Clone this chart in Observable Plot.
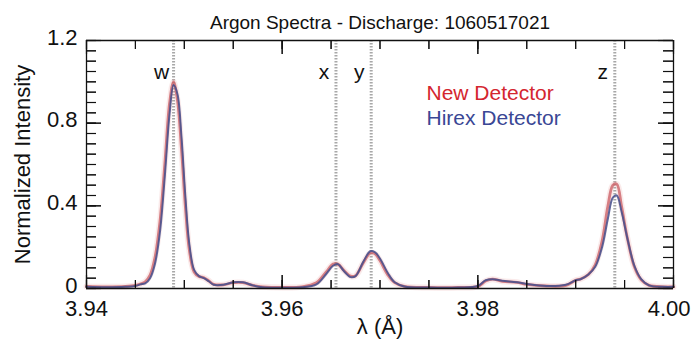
<!DOCTYPE html>
<html>
<head>
<meta charset="utf-8">
<script src="https://cdn.jsdelivr.net/npm/d3@7"></script>
<script src="https://cdn.jsdelivr.net/npm/@observablehq/plot@0.6"></script>
<style>
  html, body { margin: 0; padding: 0; background: #fff; }
  #chart svg { display: block; }
</style>
</head>
<body>
<div id="chart"></div>
<script>
// ---- data ----
const title = "Argon Spectra - Discharge: 1060517021";
const xLabel = "λ (Å)";
const yLabel = "Normalized Intensity";
const seriesNames = ["New Detector", "Hirex Detector"];

const lambda = [3.9400,3.9420,3.9440,3.9450,3.9455,3.9460,3.9465,3.9470,3.9475,3.9480,3.9485,3.9489,3.9493,3.9497,3.9501,3.9505,3.9510,3.9515,3.9520,3.9525,3.9530,3.9540,3.9550,3.9560,3.9570,3.9580,3.9600,3.9620,3.9635,3.9645,3.9652,3.9657,3.9663,3.9670,3.9675,3.9683,3.9690,3.9695,3.9700,3.9708,3.9715,3.9725,3.9750,3.9780,3.9800,3.9808,3.9815,3.9825,3.9840,3.9850,3.9870,3.9890,3.9900,3.9905,3.9913,3.9920,3.9927,3.9933,3.9938,3.9942,3.9947,3.9953,3.9960,3.9967,3.9975,3.9990,4.0000];
const newDetector = [0.010,0.008,0.010,0.015,0.022,0.032,0.065,0.150,0.320,0.600,0.900,1.000,0.910,0.680,0.400,0.190,0.080,0.058,0.052,0.037,0.020,0.018,0.028,0.028,0.015,0.008,0.005,0.008,0.028,0.080,0.118,0.118,0.088,0.060,0.062,0.125,0.172,0.168,0.135,0.066,0.028,0.010,0.005,0.005,0.010,0.036,0.045,0.035,0.030,0.020,0.012,0.015,0.040,0.046,0.068,0.115,0.230,0.400,0.500,0.505,0.395,0.240,0.105,0.042,0.015,0.008,0.008];
const hirexDetector = [0.008,0.006,0.008,0.012,0.020,0.025,0.050,0.120,0.270,0.540,0.850,0.985,0.940,0.740,0.450,0.220,0.090,0.060,0.050,0.035,0.018,0.018,0.030,0.030,0.015,0.006,0.004,0.006,0.020,0.070,0.110,0.118,0.085,0.055,0.060,0.130,0.180,0.175,0.145,0.075,0.030,0.010,0.005,0.005,0.012,0.040,0.045,0.038,0.030,0.022,0.012,0.018,0.040,0.045,0.068,0.105,0.200,0.340,0.440,0.450,0.370,0.240,0.110,0.045,0.015,0.008,0.008];

const lineNames = ["w", "x", "y", "z"];
const linePositions = [3.9489, 3.9655, 3.9691, 3.9940];

const xDomain = [3.94, 4.00];
const yDomain = [0, 1.2];
const xTickValues = [3.94, 3.96, 3.98, 4.00];
const xTickLabels = ["3.94", "3.96", "3.98", "4.00"];
const yTickValues = [0, 0.4, 0.8, 1.2];
const yTickLabels = ["0", "0.4", "0.8", "1.2"];

// ---- derived tables ----
const rows = lambda.flatMap((l, i) => [
  {lambda: l, value: newDetector[i], series: seriesNames[0]},
  {lambda: l, value: hirexDetector[i], series: seriesNames[1]}
]);
const newRows = rows.filter(d => d.series === seriesNames[0]);
const hirexRows = rows.filter(d => d.series === seriesNames[1]);
const refLines = lineNames.map((n, i) => ({name: n, x: linePositions[i]}));
const xMinor = d3.range(0, 13).map(i => +(3.94 + i * 0.005).toFixed(3));
const yMinor = d3.range(0, 25).map(i => +(i * 0.05).toFixed(2));
const xFmt = d => xTickLabels[xTickValues.findIndex(v => Math.abs(v - d) < 1e-9)];
const yFmt = d => yTickLabels[yTickValues.findIndex(v => Math.abs(v - d) < 1e-9)];

const font = "Liberation Sans, Arial, Helvetica, sans-serif";
const redText = "#d4262f";
const blueText = "#3a4795";
const ink = "#111";

const W = 691, H = 341, mL = 86, mR = 18, mT = 40, mB = 53;
const fw = W - mL - mR, fh = H - mT - mB;
// pixel tick lengths converted into data units with the same linear mapping as the plot
const xs = d3.scaleLinear(xDomain, [mL, W - mR]);
const ys = d3.scaleLinear(yDomain, [H - mB, mT]);
const dxLen = L => xs.invert(mL + L) - xDomain[0];
const dyLen = L => yDomain[1] - ys.invert(mT + L);

const tickOpts = {stroke: ink, strokeWidth: 1.1};
const tickB = (vals, L) => Plot.ruleX(vals, {x: d => d, y1: () => yDomain[0], y2: () => yDomain[0] + dyLen(L), ...tickOpts});
const tickT = (vals, L) => Plot.ruleX(vals, {x: d => d, y1: () => yDomain[1] - dyLen(L), y2: () => yDomain[1], ...tickOpts});
const tickL = (vals, L) => Plot.ruleY(vals, {y: d => d, x1: () => xDomain[0], x2: () => xDomain[0] + dxLen(L), ...tickOpts});
const tickR = (vals, L) => Plot.ruleY(vals, {y: d => d, x1: () => xDomain[1] - dxLen(L), x2: () => xDomain[1], ...tickOpts});
// same ticks again via insets (coincident; whichever path renders)
const tickB2 = (vals, L) => Plot.ruleX(vals, {insetTop: fh - L, ...tickOpts});
const tickT2 = (vals, L) => Plot.ruleX(vals, {insetBottom: fh - L, ...tickOpts});
const tickL2 = (vals, L) => Plot.ruleY(vals, {insetRight: fw - L, ...tickOpts});
const tickR2 = (vals, L) => Plot.ruleY(vals, {insetLeft: fw - L, ...tickOpts});

const chart = Plot.plot({
  width: W,
  height: H,
  marginLeft: mL,
  marginRight: mR,
  marginTop: mT,
  marginBottom: mB,
  style: {fontFamily: font, background: "#fff", color: ink},
  x: {domain: xDomain},
  y: {domain: yDomain},
  marks: [
    // dotted reference lines
    Plot.ruleX(refLines, {x: "x", stroke: "#a8a8a8", strokeWidth: 3, strokeDasharray: "1.5,1.5"}),
    // curves
    Plot.line(newRows, {x: "lambda", y: "value", stroke: "#e8a0a0", strokeWidth: 6, strokeOpacity: 0.22, curve: "catmull-rom"}),
    Plot.line(newRows, {x: "lambda", y: "value", stroke: "#c95a60", strokeWidth: 2.8, strokeOpacity: 0.75, curve: "catmull-rom"}),
    Plot.line(hirexRows, {x: "lambda", y: "value", stroke: "#434d8c", strokeWidth: 2, strokeOpacity: 0.85, curve: "catmull-rom"}),
    // frame
    Plot.ruleX(xDomain, {stroke: ink, strokeWidth: 1.3}),
    Plot.ruleY(yDomain, {stroke: ink, strokeWidth: 1.3}),
    // inward ticks
    tickB(xMinor, 8), tickT(xMinor, 9), tickB(xTickValues, 13), tickT(xTickValues, 14),
    tickL(yMinor, 10), tickR(yMinor, 10), tickL(yTickValues, 15), tickR(yTickValues, 15),
    tickB2(xMinor, 8), tickT2(xMinor, 9), tickB2(xTickValues, 13), tickT2(xTickValues, 14),
    tickL2(yMinor, 10), tickR2(yMinor, 10), tickL2(yTickValues, 15), tickR2(yTickValues, 15),
    // tick labels
    Plot.axisX(xTickValues.slice(0, 3), {anchor: "bottom", tickSize: 0, tickPadding: 12, tickFormat: xFmt, fontSize: 22, fill: ink, label: null}),
    Plot.axisX(xTickValues.slice(3), {anchor: "bottom", tickSize: 0, tickPadding: 12, tickFormat: xFmt, fontSize: 22, fill: ink, label: null, textAnchor: "end", dx: 17}),
    Plot.axisY(yTickValues, {anchor: "left", tickSize: 0, tickPadding: 9, tickFormat: yFmt, fontSize: 22, fill: ink, label: null, dy: -3}),
    // axis titles
    Plot.text([xLabel], {frameAnchor: "bottom", lineAnchor: "middle", dy: 38, fontSize: 22, fill: ink}),
    Plot.text([yLabel], {frameAnchor: "left", textAnchor: "middle", lineAnchor: "middle", dx: -64, rotate: -90, fontSize: 22, fill: ink}),
    Plot.text([title], {frameAnchor: "top", lineAnchor: "middle", dy: -18, fontSize: 19, fill: ink}),
    // legend
    Plot.text([seriesNames[0]], {frameAnchor: "top-left", textAnchor: "start", lineAnchor: "middle", dx: 340, dy: 53, fontSize: 21, fill: redText}),
    Plot.text([seriesNames[1]], {frameAnchor: "top-left", textAnchor: "start", lineAnchor: "middle", dx: 340, dy: 78, fontSize: 21, fill: blueText}),
    // line labels
    Plot.text(refLines, {x: "x", text: "name", frameAnchor: "top", lineAnchor: "middle", dy: 32, dx: -12, fontSize: 21, fill: ink})
  ]
});
document.getElementById("chart").appendChild(chart);
</script>
</body>
</html>
